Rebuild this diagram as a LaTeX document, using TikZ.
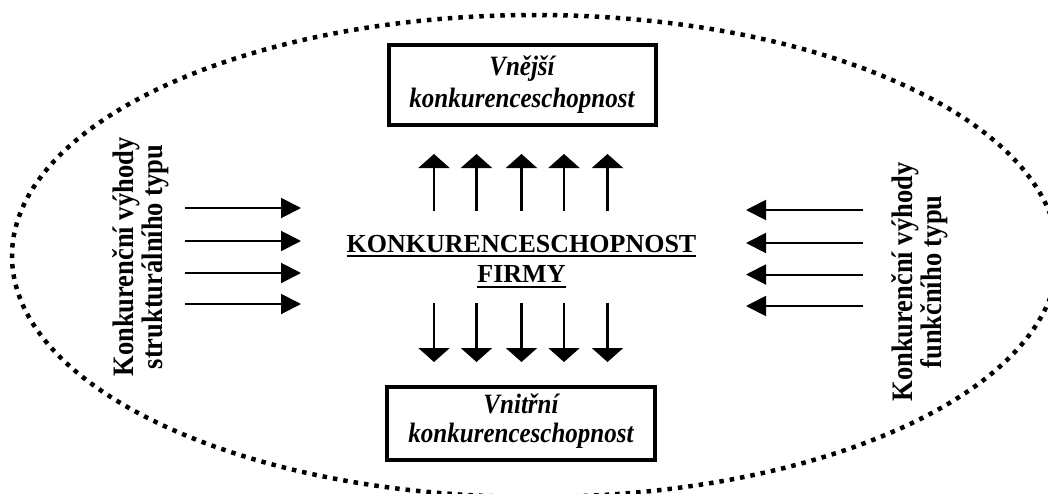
\documentclass[tikz,border=0pt]{standalone}
\usepackage{fontspec}
\setmainfont{Liberation Serif}
\usetikzlibrary{arrows.meta}
\newcommand{\tallglyphs}[1]{\scalebox{1}[1.12]{#1}}

\begin{document}
\begin{tikzpicture}[x=1pt,y=-1pt,
  every node/.style={inner sep=0pt, outer sep=0pt},
  txt/.style={font=\fontsize{26}{30}\selectfont\bfseries, anchor=base},
  boxtxt/.style={font=\fontsize{25}{30}\selectfont\bfseries\itshape, anchor=base},
  sidetxt/.style={font=\fontsize{26.5}{30}\selectfont\bfseries, anchor=base, rotate=90},
  frame/.style={draw, line width=4pt},
  vup/.style={line width=2.4pt, -{Triangle[width=31pt,length=14pt]}},
  hor/.style={line width=2pt, -{Triangle[width=20pt,length=20pt]}},
  uline/.style={line width=2.6pt},
  border/.style={line width=4.5pt, dash pattern=on 4.5pt off 6pt}]

\useasboundingbox (0,0) rectangle (1048,493);
\clip (0,0) rectangle (1048,493);

% dotted outline around the whole scheme
\draw[border] (535,256) ellipse [x radius=523pt, y radius=241pt];

% outer and inner competitiveness boxes
\draw[frame] (389,45) rectangle (656,125);
\node[boxtxt] (vn1) at (522,75) {\tallglyphs{Vnější}};
\node[boxtxt] (vn2) at (522,107) {\tallglyphs{konkurenceschopnost}};

\draw[frame] (387,387) rectangle (655,460);
\node[boxtxt] (vi1) at (521,413) {\tallglyphs{Vnitřní}};
\node[boxtxt] (vi2) at (521,442) {\tallglyphs{konkurenceschopnost}};

% central label
\node[txt] (k1) at (521.5,252) {KONKURENCESCHOPNOST};
\node[txt] (k2) at (521.5,282) {FIRMY};
\draw[uline] ([yshift=-4pt]k1.base west) -- ([yshift=-4pt]k1.base east);
\draw[uline] ([yshift=-5pt]k2.base west) -- ([yshift=-5pt]k2.base east);

% side labels
\node[sidetxt] (lt1) at (133,257) {\tallglyphs{Konkurenční výhody}};
\node[sidetxt] (lt2) at (162,257) {\tallglyphs{strukturálního typu}};
\node[sidetxt] (rt1) at (912,282) {\tallglyphs{Konkurenční výhody}};
\node[sidetxt] (rt2) at (941,282) {\tallglyphs{funkčního typu}};

% vertical arrows
\foreach \i/\x in {1/434,2/476.5,3/521.5,4/564,5/607.5}{
  \coordinate (ua\i) at (\x,211);
  \coordinate (ub\i) at (\x,154);
  \coordinate (da\i) at (\x,303);
  \coordinate (db\i) at (\x,362);
  \draw[vup] (ua\i) -- (ub\i);
  \draw[vup] (da\i) -- (db\i);
}

% horizontal arrows
\foreach \i/\y in {1/208,2/241,3/273,4/304}{
  \coordinate (la\i) at (185,\y);
  \coordinate (lb\i) at (301,\y);
  \draw[hor] (la\i) -- (lb\i);
}
\foreach \i/\y in {1/210,2/243,3/274.5,4/306}{
  \coordinate (ra\i) at (863,\y);
  \coordinate (rb\i) at (746,\y);
  \draw[hor] (ra\i) -- (rb\i);
}
\end{tikzpicture}
\end{document}
